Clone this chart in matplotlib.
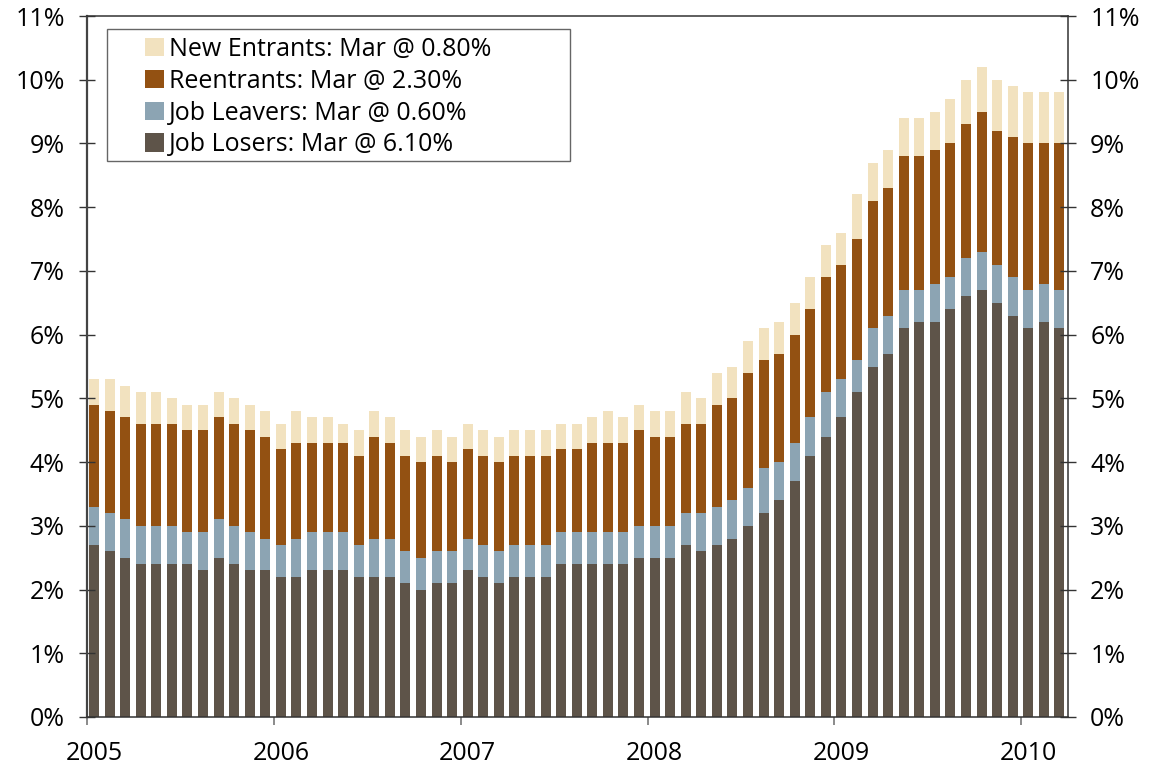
#!/usr/bin/python
# -*- coding: UTF-8 -*-
'''
Desemprego por motivo (empilhado), mensal 2005 - Mar 2010.
'''
import numpy as np
import matplotlib
matplotlib.use('Agg')
import matplotlib.pyplot as plt
from matplotlib.patches import Rectangle
from matplotlib.ticker import FixedLocator, FuncFormatter

plt.rcParams['font.family'] = ['Open Sans', 'DejaVu Sans']

ANOS = ['2005', '2006', '2007', '2008', '2009', '2010']

JOB_LOSERS = [2.7, 2.6, 2.5, 2.4, 2.4, 2.4, 2.4, 2.3, 2.5, 2.4, 2.3, 2.3,
              2.2, 2.2, 2.3, 2.3, 2.3, 2.2, 2.2, 2.2, 2.1, 2.0, 2.1, 2.1,
              2.3, 2.2, 2.1, 2.2, 2.2, 2.2, 2.4, 2.4, 2.4, 2.4, 2.4, 2.5,
              2.5, 2.5, 2.7, 2.6, 2.7, 2.8, 3.0, 3.2, 3.4, 3.7, 4.1, 4.4,
              4.7, 5.1, 5.5, 5.7, 6.1, 6.2, 6.2, 6.4, 6.6, 6.7, 6.5, 6.3,
              6.1, 6.2, 6.1]
JOB_LEAVERS = [0.6, 0.6, 0.6, 0.6, 0.6, 0.6, 0.5, 0.6, 0.6, 0.6, 0.6, 0.5,
               0.5, 0.6, 0.6, 0.6, 0.6, 0.5, 0.6, 0.6, 0.5, 0.5, 0.5, 0.5,
               0.5, 0.5, 0.5, 0.5, 0.5, 0.5, 0.5, 0.5, 0.5, 0.5, 0.5, 0.5,
               0.5, 0.5, 0.5, 0.6, 0.6, 0.6, 0.6, 0.7, 0.6, 0.6, 0.6, 0.7,
               0.6, 0.5, 0.6, 0.6, 0.6, 0.5, 0.6, 0.5, 0.6, 0.6, 0.6, 0.6,
               0.6, 0.6, 0.6]
REENTRANTS = [1.6, 1.6, 1.6, 1.6, 1.6, 1.6, 1.6, 1.6, 1.6, 1.6, 1.6, 1.6,
              1.5, 1.5, 1.4, 1.4, 1.4, 1.4, 1.6, 1.5, 1.5, 1.5, 1.5, 1.4,
              1.4, 1.4, 1.4, 1.4, 1.4, 1.4, 1.3, 1.3, 1.4, 1.4, 1.4, 1.5,
              1.4, 1.4, 1.4, 1.4, 1.6, 1.6, 1.8, 1.7, 1.7, 1.7, 1.7, 1.8,
              1.8, 1.9, 2.0, 2.0, 2.1, 2.1, 2.1, 2.1, 2.1, 2.2, 2.1, 2.2,
              2.3, 2.2, 2.3]
NEW_ENTRANTS = [0.4, 0.5, 0.5, 0.5, 0.5, 0.4, 0.4, 0.4, 0.4, 0.4, 0.4, 0.4,
                0.4, 0.5, 0.4, 0.4, 0.3, 0.4, 0.4, 0.4, 0.4, 0.4, 0.4, 0.4,
                0.4, 0.4, 0.4, 0.4, 0.4, 0.4, 0.4, 0.4, 0.4, 0.5, 0.4, 0.4,
                0.4, 0.4, 0.5, 0.4, 0.5, 0.5, 0.5, 0.5, 0.5, 0.5, 0.5, 0.5,
                0.5, 0.7, 0.6, 0.6, 0.6, 0.6, 0.6, 0.7, 0.7, 0.7, 0.8, 0.8,
                0.8, 0.8, 0.8]

LEGENDAS = ['New Entrants: Mar @ 0.80%', 'Reentrants: Mar @ 2.30%',
            'Job Leavers: Mar @ 0.60%', 'Job Losers: Mar @ 6.10%']
CORES = ['#F2E2BF', '#935112', '#8CA4B3', '#5E5449']
FS = 18

fig = plt.figure(figsize=(11.54, 7.69), dpi=100)
ax = fig.add_axes([87 / 1154, 1 - 717 / 769, 981 / 1154, 701 / 769])

meses = np.arange(len(JOB_LOSERS)) + 0.45
base = np.zeros(len(JOB_LOSERS))
barras = []
for serie, cor in zip([JOB_LOSERS, JOB_LEAVERS, REENTRANTS, NEW_ENTRANTS], CORES[::-1]):
    b = ax.bar(meses, serie, width=0.64, bottom=base, color=cor, linewidth=0)
    barras.append(b)
    base = base + np.array(serie)

ax.set_xlim(0, len(JOB_LOSERS))
ax.set_ylim(0, 11)

# eixo y dos dois lados
ax.set_yticks(np.arange(0, 12, 1))
ax.yaxis.set_major_formatter(FuncFormatter(lambda v, p: '%d%%' % v))
ax.tick_params(axis='y', which='major', direction='inout', length=12, width=1,
               color='#333333', labelsize=FS, pad=10, left=True, right=True,
               labelleft=True, labelright=True)

# anos: tick no inicio do ano, rotulo no centro da barra de janeiro
ax.xaxis.set_major_locator(FixedLocator(np.arange(0, 61, 12)))
ax.xaxis.set_major_formatter(FuncFormatter(lambda v, p: ''))
ax.xaxis.set_minor_locator(FixedLocator(np.arange(0, 61, 12) + 0.45))
ax.set_xticklabels(ANOS, minor=True)
ax.tick_params(axis='x', which='major', direction='out', length=6, width=1.2, color='#777777')
ax.tick_params(axis='x', which='minor', length=0, labelsize=FS, pad=17)

for lado in ['left', 'right', 'top', 'bottom']:
    ax.spines[lado].set_color('#333333')
    ax.spines[lado].set_linewidth(1.1)
ax.spines['left'].set_linewidth(1.6)
ax.spines['left'].set_color('#444444')

# caixa da legenda
caixa = Rectangle(((107 - 87) / 981, (717 - 161) / 701), 463 / 981, 132 / 701,
                  transform=ax.transAxes, facecolor='white', edgecolor='#666666',
                  linewidth=1.0, zorder=5)
ax.add_patch(caixa)
leg = ax.legend(barras[::-1], LEGENDAS, loc='upper left',
                bbox_to_anchor=((145 - 87) / 981, (717 - 37) / 701),
                frameon=False, fontsize=FS, borderpad=0, borderaxespad=0,
                handlelength=0.75, handleheight=0.75, handletextpad=0.2,
                labelspacing=0.27)
leg.set_zorder(6)

plt.savefig('out.png', dpi=100)
